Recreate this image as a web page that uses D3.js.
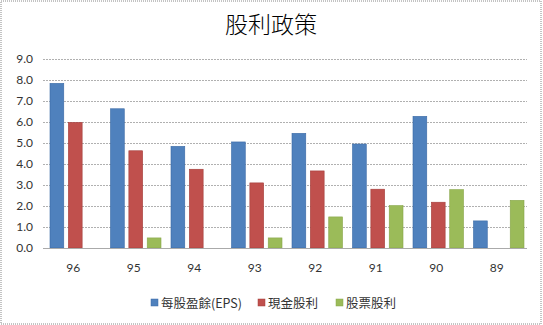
<!DOCTYPE html>
<html><head><meta charset="utf-8">
<script src="https://cdn.jsdelivr.net/npm/d3@7"></script>
<style>body{margin:0;background:#fff}svg{display:block}</style>
</head><body>
<script>
const title = "股利政策";
const categories = ["96","95","94","93","92","91","90","89"];
const seriesNames = ["每股盈餘(EPS)","現金股利","股票股利"];
const eps = [7.84, 6.63, 4.84, 5.05, 5.46, 4.95, 6.27, 1.29];
const cash = [5.98, 4.63, 3.75, 3.10, 3.67, 2.80, 2.18, 0];
const stock = [0, 0.48, 0, 0.48, 1.48, 2.02, 2.78, 2.27];
const yTicks = [0,1,2,3,4,5,6,7,8,9];
const colors = ["#4F81BD","#C0504D","#9BBB59"];
const strokes = ["#3a6aa6","#a33d3a","#87a649"];

const W = 543, H = 325;
const svg = d3.select("body").append("svg").attr("width", W).attr("height", H);
svg.append("rect").attr("x",1).attr("y",1).attr("width",W-3).attr("height",H-2)
  .attr("fill","#fff").attr("stroke","#888").attr("stroke-dasharray","1,1");

const x0 = d3.scaleBand().domain(categories).range([43, 527]).paddingInner(0).paddingOuter(0);
const x1 = d3.scaleBand().domain(d3.range(3)).range([7, x0.bandwidth()-3]).paddingInner(0.25).paddingOuter(0);
const y = d3.scaleLinear().domain([0, 9]).range([248, 59]);

const font = "Lato, 'Open Sans', sans-serif";

// gridlines
svg.append("g").selectAll("line").data(yTicks.slice(1)).join("line")
  .attr("x1", 43).attr("x2", 527).attr("y1", d => y(d)+0.5).attr("y2", d => y(d)+0.5)
  .attr("stroke", "#b0b0b0").attr("stroke-dasharray", "2,1");

// y axis labels
const yAxis = d3.axisLeft(y).tickValues(yTicks).tickFormat(d3.format(".1f")).tickSize(0).tickPadding(10);
const ya = svg.append("g").attr("transform","translate(43,0)").call(yAxis);
ya.select(".domain").remove();
ya.selectAll("text").attr("font-family", font).attr("font-size", 12).attr("fill","#333");

// bars
const data = [eps, cash, stock];
const g = svg.append("g");
categories.forEach((c, i) => {
  data.forEach((s, k) => {
    if (s[i] > 0) {
      g.append("rect")
        .attr("x", x0(c) + x1(k)).attr("width", x1.bandwidth())
        .attr("y", y(s[i])).attr("height", y(0) - y(s[i]))
        .attr("fill", colors[k]).attr("stroke", strokes[k]).attr("stroke-width", 0.6);
    }
  });
});

// baseline
svg.append("line").attr("x1",43).attr("x2",527).attr("y1",y(0)+0.5).attr("y2",y(0)+0.5)
  .attr("stroke","#aaa");

// x axis labels
const xAxis = d3.axisBottom(x0).tickSize(0).tickPadding(15);
const xa = svg.append("g").attr("transform", `translate(0,${y(0)})`).call(xAxis);
xa.select(".domain").remove();
xa.selectAll("text").attr("font-family", font).attr("font-size", 12).attr("fill","#333");

// title
svg.append("text").attr("x", 271).attr("y", 33).attr("text-anchor","middle")
  .attr("font-family","'Noto Sans CJK TC', sans-serif").attr("font-weight", 300).attr("font-size", 23)
  .attr("fill","#000").text(title);

// legend
const legX = [151, 258, 336];
const leg = svg.append("g");
seriesNames.forEach((n, k) => {
  leg.append("rect").attr("x", legX[k]).attr("y", 299).attr("width", 7).attr("height", 7)
    .attr("fill", colors[k]).attr("stroke", strokes[k]).attr("stroke-width",0.5);
  leg.append("text").attr("x", legX[k] + 10).attr("y", 307.5)
    .attr("font-family", "'Noto Sans CJK TC', sans-serif").attr("font-size", 12.5).attr("fill","#333").text(n);
});
</script>
</body></html>
